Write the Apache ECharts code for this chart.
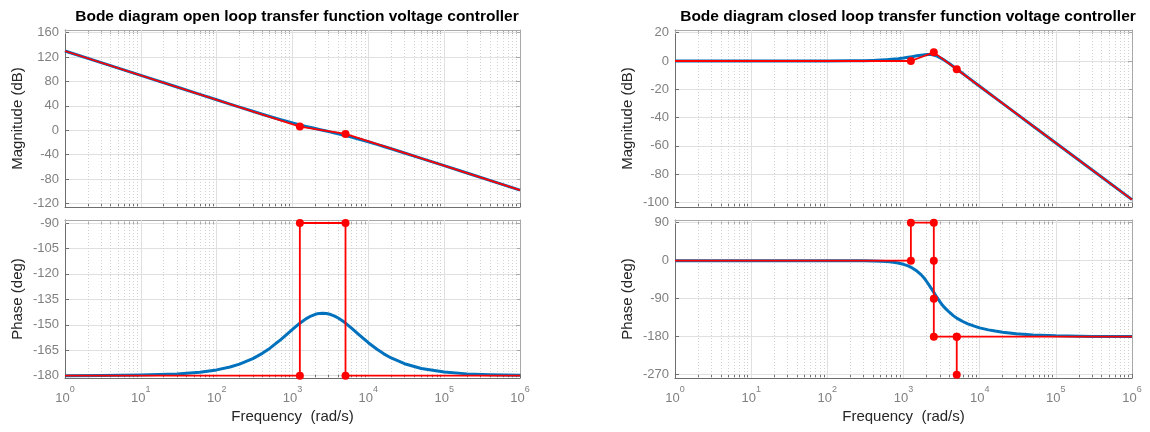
<!DOCTYPE html>
<html lang="en">
<head>
    <meta charset="UTF-8">
    <title>Bode diagrams voltage controller</title>
    <script src="https://cdn.jsdelivr.net/npm/echarts@6/dist/echarts.min.js"></script>
</head>
<body style="margin:0; background:#fff;">
    <div id="main" style="width: 1150px; height: 432px;"></div>
    <script>
        // open loop: frequency (rad/s), magnitude (dB), phase (deg)
        const freqOL = [1, 3, 10, 30, 60, 100, 150, 200, 300, 400, 500, 700, 850, 1000, 1250, 1500, 1750, 2000, 2250, 2500, 2800, 3200, 3600, 4000, 4500, 5000, 6000, 7000, 8500, 1e4, 1.3e4, 1.6e4, 2e4, 3e4, 5e4, 1e5, 2e5, 4e5, 1e6];
        const magOL = [130, 110.92, 90, 70.92, 58.88, 50.03, 43.02, 38.06, 31.15, 26.32, 22.64, 17.3, 14.35, 11.98, 8.87, 6.46, 4.49, 2.83, 1.38, 0.1, -1.28, -2.92, -4.38, -5.72, -7.26, -8.67, -11.19, -13.41, -16.34, -18.86, -23.08, -26.5, -30.24, -37.15, -45.96, -57.97, -70, -82.04, -97.96];
        const phaseOL = [-179.97, -179.9, -179.66, -178.97, -177.94, -176.58, -174.88, -173.2, -169.93, -166.83, -163.91, -158.72, -155.43, -152.65, -149.04, -146.51, -144.83, -143.81, -143.28, -143.13, -143.31, -143.96, -144.9, -145.99, -147.51, -149.04, -151.96, -154.58, -157.9, -160.56, -164.45, -167.12, -169.54, -172.93, -175.72, -177.86, -178.93, -179.46, -179.78];

        // closed loop
        const freqCL = [1, 10, 100, 200, 300, 400, 500, 600, 700, 850, 1000, 1150, 1300, 1500, 1700, 1900, 2100, 2300, 2500, 2750, 3000, 3300, 3600, 4000, 4500, 5000, 6000, 7000, 8500, 1e4, 1.3e4, 1.6e4, 2e4, 3e4, 5e4, 1e5, 3e5, 1e6];
        const magCL = [0, 0, 0.03, 0.11, 0.24, 0.42, 0.64, 0.89, 1.17, 1.62, 2.1, 2.6, 3.06, 3.65, 4.12, 4.43, 4.56, 4.5, 4.15, 3.4, 2.45, 1.16, -0.14, -1.85, -3.85, -5.68, -8.89, -11.61, -15.03, -17.88, -22.47, -26.09, -29.98, -37.04, -45.91, -57.96, -77.05, -97.96];
        const phaseCL = [0, 0, -0.02, -0.09, -0.28, -0.66, -1.27, -2.12, -3.25, -5.6, -8.6, -12.4, -17, -24.5, -33, -43, -54, -65, -75, -87, -97, -107, -114, -122, -130, -136, -144, -149.5, -155, -159, -163.8, -166.7, -169.3, -172.9, -175.7, -177.9, -179.3, -179.8];

        // red asymptotes
        const asymOLMagFreq = [1, 1250, 5000, 1e6];
        const asymOLMag = [130, 6.1, -5.9, -98];
        const asymOLPhaseFreq = [1, 1250, 1250, 5000, 5000, 1e6];
        const asymOLPhase = [-180, -180, -90, -90, -180, -180];
        const asymCLMagFreq = [1, 1250, 2500, 5000, 1e6];
        const asymCLMag = [0, 0, 6.1, -5.9, -98];
        const asymCLPhaseFreq = [1, 1250, 1250, 2500, 2500, 2500, 2500, 5000, 5000, 5000, 1e6];
        const asymCLPhase = [0, 0, 90, 90, 0, -90, -180, -180, -270, -180, -180];

        // tick labels
        const decades = [1, 10, 100, 1000, 1e4, 1e5, 1e6];
        const ticksOLMag = [-120, -80, -40, 0, 40, 80, 120, 160];
        const ticksOLPhase = [-180, -165, -150, -135, -120, -105, -90];
        const ticksCLMag = [-100, -80, -60, -40, -20, 0, 20];
        const ticksCLPhase = [-270, -180, -90, 0, 90];

        const minors = [];
        for (let k = 0; k < 6; k++) {
            for (let m = 2; m <= 9; m++) minors.push(m * Math.pow(10, k));
        }
        const allTicks = decades.concat(minors);

        const FONT = 'Liberation Sans';
        const dark = '#6e6e6e';
        const light = '#a8a8a8';
        const labelGray = '#808080';

        const grids = [
            { left: 65, top: 30, width: 455, height: 177 },
            { left: 65, top: 220, width: 455, height: 158 },
            { left: 675, top: 30, width: 457, height: 177 },
            { left: 675, top: 220, width: 457, height: 158 }
        ];
        const yRange = [[-125.7, 164.4], [-181.36, -88.23], [-103.2, 21.9], [-277.8, 96.4]];
        const yTicks = [ticksOLMag, ticksOLPhase, ticksCLMag, ticksCLPhase];
        const yNames = ['Magnitude (dB)', 'Phase (deg)', 'Magnitude (dB)', 'Phase (deg)'];

        function pair(xs, ys) {
            return xs.map(function (x, i) { return [x, ys[i]]; });
        }
        function asym(xs, ys) {
            return xs.map(function (x, i) {
                const item = { value: [x, ys[i]] };
                if (i === 0 || i === xs.length - 1) item.symbol = 'none';
                return item;
            });
        }

        const xAxes = [], yAxes = [], series = [];
        grids.forEach(function (g, i) {
            const bottom = (i === 1 || i === 3);
            xAxes.push({
                type: 'log', logBase: 10, min: 1, max: 1e6, gridIndex: i, position: 'bottom',
                name: bottom ? 'Frequency  (rad/s)' : '',
                nameLocation: 'middle', nameGap: 31,
                nameTextStyle: { fontSize: 15, color: '#262626', fontFamily: FONT },
                axisLine: { show: true, onZero: false, lineStyle: { color: dark, width: 1 } },
                axisTick: { show: true, inside: true, length: 4, customValues: allTicks, lineStyle: { color: dark } },
                splitLine: { show: false },
                axisLabel: {
                    show: bottom, customValues: decades, margin: 7, color: labelGray,
                    formatter: function (v) {
                        return '{b|10}{s|' + Math.round(Math.log10(v)) + '}';
                    },
                    rich: {
                        b: { fontSize: 13, fontFamily: FONT, color: labelGray, lineHeight: 20, verticalAlign: 'bottom' },
                        s: { fontSize: 9, fontFamily: FONT, color: labelGray, lineHeight: 20, verticalAlign: 'top' }
                    }
                }
            });
            xAxes.push({
                type: 'log', logBase: 10, min: 1, max: 1e6, gridIndex: i, position: 'top',
                axisLine: { show: true, onZero: false, lineStyle: { color: light, width: 1 } },
                axisTick: { show: true, inside: true, length: 4, customValues: allTicks, lineStyle: { color: light } },
                splitLine: { show: false },
                axisLabel: { show: false }
            });
            yAxes.push({
                type: 'value', gridIndex: i, position: 'left',
                min: yRange[i][0], max: yRange[i][1],
                name: yNames[i], nameLocation: 'middle', nameGap: 40, nameRotate: 90,
                nameTextStyle: { fontSize: 15, color: '#262626', fontFamily: FONT },
                axisLine: { show: true, onZero: false, lineStyle: { color: dark, width: 1 } },
                axisTick: { show: true, inside: true, length: 4, customValues: yTicks[i], lineStyle: { color: dark } },
                axisLabel: { customValues: yTicks[i], fontSize: 13, color: labelGray, fontFamily: FONT, margin: 6 },
                splitLine: { show: true, lineStyle: { color: '#e0e0e0', width: 1 } }
            });
            yAxes.push({
                type: 'value', gridIndex: i, position: 'right',
                min: yRange[i][0], max: yRange[i][1],
                axisLine: { show: true, onZero: false, lineStyle: { color: light, width: 1 } },
                axisTick: { show: true, inside: true, length: 4, customValues: yTicks[i], lineStyle: { color: light } },
                axisLabel: { show: false },
                splitLine: { show: false }
            });

            // vertical grid lines (major solid, minor dotted), kept under the curves
            series.push({
                type: 'line', xAxisIndex: 2 * i, yAxisIndex: 2 * i, data: [], z: 1, silent: true,
                markLine: {
                    silent: true, symbol: 'none', animation: false, z: 1,
                    label: { show: false },
                    data: decades.slice(1, -1).map(function (v) {
                        return { xAxis: v, lineStyle: { type: 'solid', color: '#e0e0e0', width: 1 } };
                    }).concat(minors.map(function (v) {
                        return { xAxis: v, lineStyle: { type: [1, 2], color: '#d2d2d2', width: 1 } };
                    }))
                }
            });
        });

        const blue = '#0072bd';
        const curves = [
            [freqOL, magOL, asymOLMagFreq, asymOLMag],
            [freqOL, phaseOL, asymOLPhaseFreq, asymOLPhase],
            [freqCL, magCL, asymCLMagFreq, asymCLMag],
            [freqCL, phaseCL, asymCLPhaseFreq, asymCLPhase]
        ];
        curves.forEach(function (c, i) {
            series.push({
                type: 'line', xAxisIndex: 2 * i, yAxisIndex: 2 * i, z: 3,
                data: pair(c[0], c[1]), showSymbol: false,
                lineStyle: { color: blue, width: 3, join: 'round' }, silent: true
            });
            series.push({
                type: 'line', xAxisIndex: 2 * i, yAxisIndex: 2 * i, z: 4,
                data: asym(c[2], c[3]), symbol: 'circle', symbolSize: 8,
                itemStyle: { color: '#ff0000' },
                lineStyle: { color: '#ff0000', width: 1.8 }, silent: true
            });
        });

        const myChart = echarts.init(document.getElementById('main'));
        myChart.setOption({
            animation: false,
            title: [
                { text: 'Bode diagram open loop transfer function voltage controller', left: 292, top: 4, textAlign: 'center',
                  textStyle: { fontSize: 15.5, fontWeight: 'bold', color: '#000', fontFamily: FONT } },
                { text: 'Bode diagram closed loop transfer function voltage controller', left: 903, top: 4, textAlign: 'center',
                  textStyle: { fontSize: 15.5, fontWeight: 'bold', color: '#000', fontFamily: FONT } }
            ],
            grid: grids,
            xAxis: xAxes,
            yAxis: yAxes,
            series: series
        });
    </script>
</body>
</html>
